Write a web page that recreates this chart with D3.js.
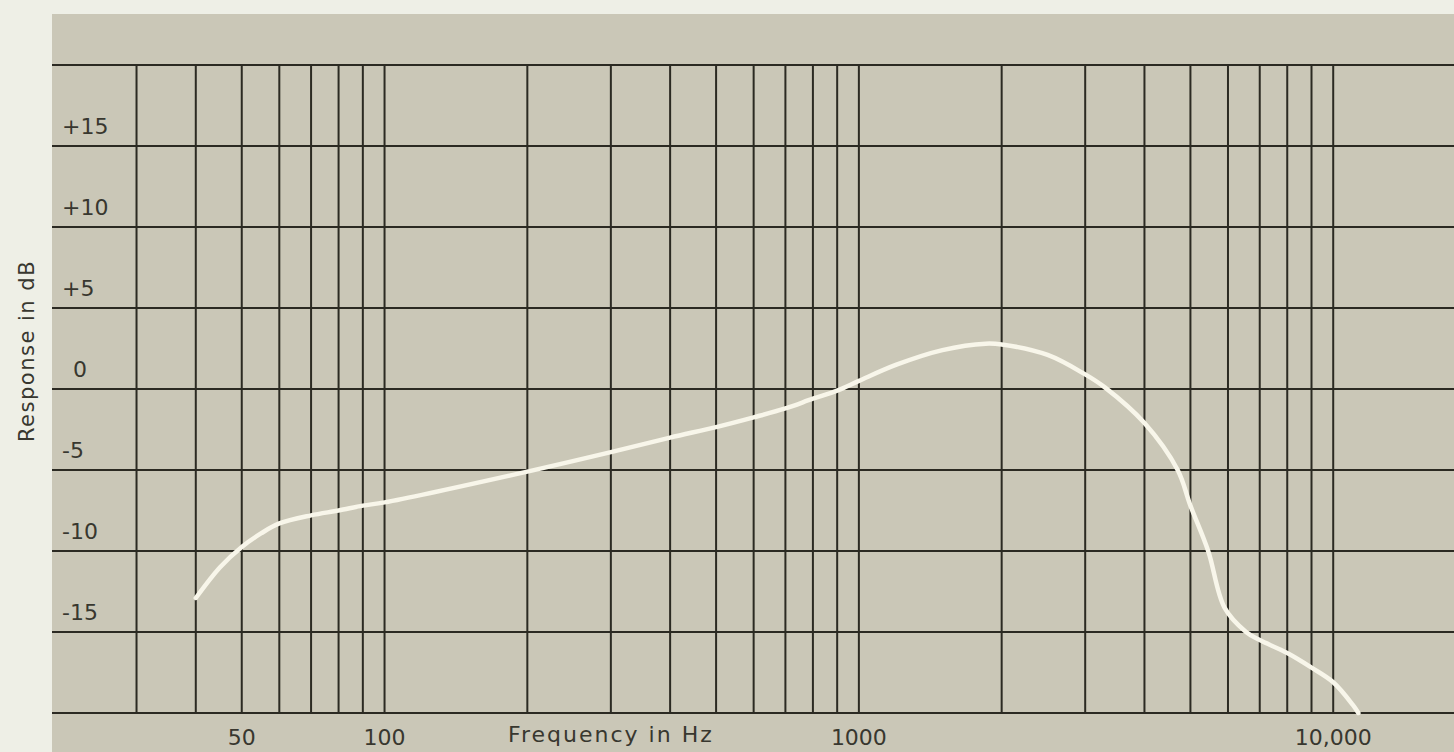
<!DOCTYPE html>
<html lang="en">
<head>
    <meta charset="UTF-8">
    <title>Response in dB</title>
    <script src="https://d3js.org/d3.v7.min.js"></script>
    <style>
        html, body { margin: 0; padding: 0; background: #eeefe6; }
        svg { display: block; }
        .grid line { stroke: #2b2a22; stroke-width: 2px; }
        .label {
            font-family: "DejaVu Sans", sans-serif;
            font-size: 22px;
            fill: #38372f;
        }
        .curve { fill: none; stroke: #f8f6ea; stroke-width: 4.5px; stroke-linecap: round; stroke-linejoin: round; }
    </style>
</head>
<body>
    <svg width="1454" height="752"></svg>
    <script>
        // grid and labels
        const gridFreqs = [30, 40, 50, 60, 70, 80, 90,
                           100, 200, 300, 400, 500, 600, 700, 800, 900,
                           1000, 2000, 3000, 4000, 5000, 6000, 7000, 8000, 9000, 10000];
        const gridDb = [20, 15, 10, 5, 0, -5, -10, -15, -20];
        const yLabelValues = [15, 10, 5, 0, -5, -10, -15];
        const yLabelTexts = ["+15", "+10", "+5", "0", "-5", "-10", "-15"];
        const xLabelFreqs = [50, 100, 1000, 10000];
        const xLabelTexts = ["50", "100", "1000", "10,000"];

        // response curve
        const freqs = [40, 45, 50, 55, 60, 70, 80, 90, 100, 200, 300, 400, 500, 600, 700, 800, 900,
                       1000, 1200, 1500, 1850, 2000, 2500, 3000, 3300, 4000, 4700, 5000, 5450, 5900,
                       6550, 7000, 8000, 9000, 10000, 11000, 11300];
        const response = [-12.9, -11.0, -9.75, -8.9, -8.3, -7.8, -7.5, -7.2, -7.0, -5.1, -3.9, -3.0, -2.35,
                          -1.75, -1.2, -0.6, -0.1, 0.5, 1.5, 2.4, 2.8, 2.75, 2.1, 0.9, 0.1, -2.1,
                          -5.0, -7.2, -10.0, -13.5, -15.0, -15.5, -16.3, -17.2, -18.1, -19.5, -20];

        const width = 1454, height = 752;
        const svg = d3.select("svg");

        const x = d3.scaleLog().domain([20, 20000]).range([53, 1476]);
        const y = d3.scaleLinear().domain([-20, 20]).range([713, 65]);

        // panel
        svg.append("rect")
            .attr("x", 52).attr("y", 14)
            .attr("width", width - 52).attr("height", height - 14)
            .attr("fill", "#cac7b7");

        const grid = svg.append("g").attr("class", "grid");

        grid.selectAll("line.h")
            .data(gridDb)
            .enter().append("line")
            .attr("class", "h")
            .attr("x1", 52).attr("x2", width)
            .attr("y1", d => y(d)).attr("y2", d => y(d));

        grid.selectAll("line.v")
            .data(gridFreqs)
            .enter().append("line")
            .attr("class", "v")
            .attr("x1", d => x(d)).attr("x2", d => x(d))
            .attr("y1", y(20)).attr("y2", y(-20));

        // curve
        const line = d3.line()
            .x((d, i) => x(freqs[i]))
            .y(d => y(d))
            .curve(d3.curveCatmullRom.alpha(0.5));

        svg.append("path")
            .attr("class", "curve")
            .attr("d", line(response));

        // y labels
        svg.append("g").selectAll("text")
            .data(yLabelValues)
            .enter().append("text")
            .attr("class", "label")
            .attr("x", d => d === 0 ? 73 : 62)
            .attr("y", d => y(d) - 12)
            .text((d, i) => yLabelTexts[i]);

        // x labels
        svg.append("g").selectAll("text")
            .data(xLabelFreqs)
            .enter().append("text")
            .attr("class", "label")
            .attr("text-anchor", "middle")
            .attr("x", d => x(d))
            .attr("y", 745)
            .text((d, i) => xLabelTexts[i]);

        svg.append("text")
            .attr("class", "label")
            .attr("text-anchor", "middle")
            .attr("x", x(300))
            .attr("y", 742)
            .style("letter-spacing", "2px")
            .text("Frequency in Hz");

        svg.append("text")
            .attr("class", "label")
            .attr("text-anchor", "middle")
            .attr("transform", "translate(34,351) rotate(-90)")
            .style("font-size", "21px")
            .style("letter-spacing", "1.5px")
            .text("Response in dB");
    </script>
</body>
</html>
